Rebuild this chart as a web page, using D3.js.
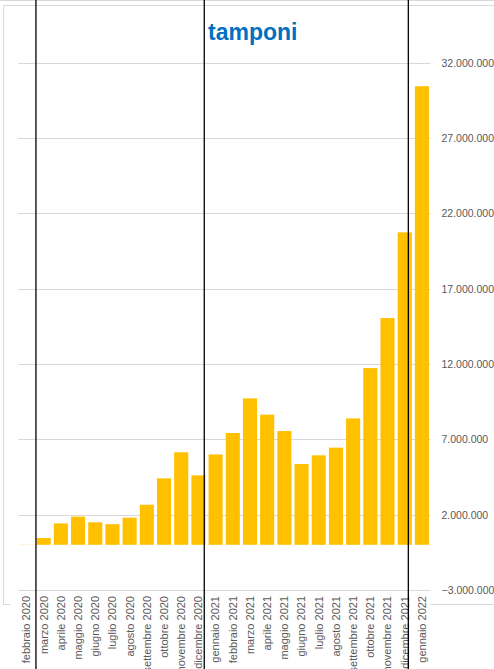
<!DOCTYPE html>
<html>
<head>
<meta charset="utf-8">
<script src="https://cdn.jsdelivr.net/npm/d3@7"></script>
<style>
  html, body { margin: 0; padding: 0; background: #fff; overflow: hidden; }
  svg { display: block; }
</style>
</head>
<body>
<svg id="chart" width="494" height="669"></svg>
<script>
// ---- data ----
const categories = [
  "febbraio 2020", "marzo 2020", "aprile 2020", "maggio 2020", "giugno 2020", "luglio 2020",
  "agosto 2020", "settembre 2020", "ottobre 2020", "novembre 2020", "dicembre 2020",
  "gennaio 2021", "febbraio 2021", "marzo 2021", "aprile 2021", "maggio 2021", "giugno 2021",
  "luglio 2021", "agosto 2021", "settembre 2021", "ottobre 2021", "novembre 2021",
  "dicembre 2021", "gennaio 2022"
];
const tamponi = [
  60000, 450000, 1420000, 1870000, 1490000, 1370000,
  1800000, 2660000, 4410000, 6140000, 4610000,
  6000000, 7420000, 9720000, 8640000, 7550000, 5360000,
  5940000, 6450000, 8390000, 11730000, 15050000,
  20740000, 30440000
];
const yTicks = [-3000000, 2000000, 7000000, 12000000, 17000000, 22000000, 27000000, 32000000];
const yDomain = [-3000000, 32000000];
// vertical divider lines, in category-index units
const dividers = [1.05, 10.84, 22.71];
const title = "tamponi";

// ---- layout ----
const svg = d3.select("#chart");
const W = 494, H = 669;
const plot = { left: 17.9, right: 430.5, top: 62.7, bottom: 590 };

const x = d3.scaleBand().domain(categories).range([plot.left, plot.right]).paddingInner(0.18).paddingOuter(0.09);
const xi = d3.scaleLinear().domain([0, categories.length]).range([plot.left, plot.right]);
const y = d3.scaleLinear().domain(yDomain).range([plot.bottom, plot.top]);

const fmt = v => d3.format(",")(v).replace(/,/g, ".");

// outer lines / frame
svg.append("line").attr("x1", 0).attr("x2", W).attr("y1", 0.5).attr("y2", 0.5)
  .attr("stroke", "#d9d9d9").attr("stroke-width", 1);
svg.append("path")
  .attr("d", `M${W},5.5 H3.5 V604.5 H10`)
  .attr("fill", "none").attr("stroke", "#d9d9d9").attr("stroke-width", 1);
svg.append("line").attr("x1", 430).attr("x2", W).attr("y1", 604.5).attr("y2", 604.5)
  .attr("stroke", "#d9d9d9").attr("stroke-width", 1);

// gridlines
svg.append("g").selectAll("line").data(yTicks).join("line")
  .attr("x1", plot.left).attr("x2", plot.right)
  .attr("y1", d => Math.round(y(d)) + 0.5).attr("y2", d => Math.round(y(d)) + 0.5)
  .attr("stroke", "#d9d9d9").attr("stroke-width", 1);

// right-side tick labels via axis
const yAxis = d3.axisRight(y).tickValues(yTicks).tickFormat(fmt).tickSize(0).tickPadding(0);
const ga = svg.append("g").attr("transform", `translate(441.5,0)`).call(yAxis);
ga.select(".domain").remove();
ga.selectAll("text")
  .attr("fill", "#595959")
  .style("font-family", "'Liberation Sans', Arial, sans-serif")
  .style("font-size", "10.5px");

// bars
svg.append("g").selectAll("rect").data(tamponi).join("rect")
  .attr("x", (d, i) => x(categories[i]))
  .attr("width", x.bandwidth())
  .attr("y", d => y(Math.max(0, d)))
  .attr("height", d => Math.abs(y(d) - y(0)))
  .attr("fill", (d, i) => i === 0 ? "#fff2cc" : "#ffc000");

// x labels (rotated)
const xAxis = d3.axisBottom(x).tickSize(0).tickPadding(0);
const gx = svg.append("g").attr("transform", `translate(0,596)`).call(xAxis);
gx.select(".domain").remove();
gx.selectAll("text")
  .attr("transform", "rotate(-90)")
  .attr("text-anchor", "end")
  .attr("x", 0).attr("y", 0).attr("dy", "0.35em")
  .attr("fill", "#595959")
  .style("font-family", "'Liberation Sans', Arial, sans-serif")
  .style("font-size", "11px");

// divider lines
svg.append("g").selectAll("line").data(dividers).join("line")
  .attr("x1", d => xi(d)).attr("x2", d => xi(d))
  .attr("y1", 0).attr("y2", H)
  .attr("stroke", "#000").attr("stroke-width", 1.3);

// title
svg.append("text")
  .attr("x", 252.8).attr("y", 40)
  .attr("text-anchor", "middle")
  .attr("fill", "#0070c0")
  .style("font-family", "'Liberation Sans', Arial, sans-serif")
  .style("font-weight", "bold")
  .style("font-size", "23px")
  .text(title);
</script>
</body>
</html>
